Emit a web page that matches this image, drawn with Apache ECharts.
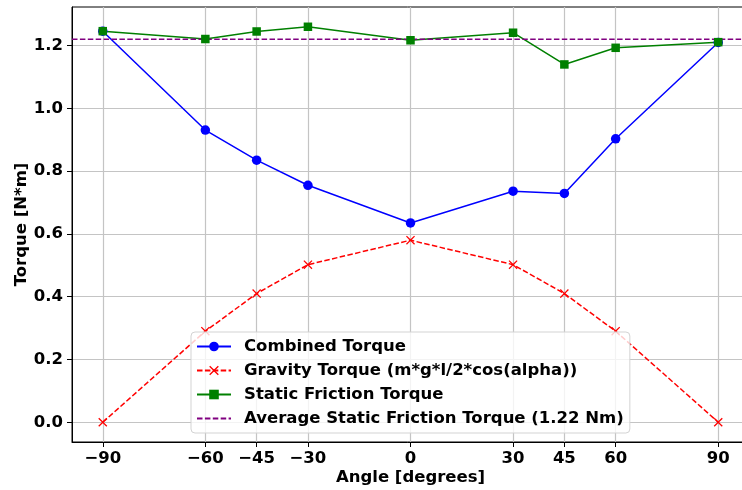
<!DOCTYPE html>
<html>
<head>
<meta charset="utf-8">
<script src="https://cdn.jsdelivr.net/npm/echarts@6/dist/echarts.min.js"></script>
<style>
  html, body { margin: 0; padding: 0; background: #fff; }
  #chart { width: 742px; height: 490px; }
</style>
</head>
<body>
<div id="chart"></div>
<script>
// Measurement angles (degrees) and the torques at each angle (N*m)
const angles = [-90, -60, -45, -30, 0, 30, 45, 60, 90];
const combinedTorque = [1.246, 0.931, 0.835, 0.755, 0.635, 0.736, 0.729, 0.903, 1.210];
const gravityTorque = [0.0, 0.29, 0.41, 0.502, 0.58, 0.502, 0.41, 0.29, 0.0];
const frictionTorque = [1.246, 1.221, 1.245, 1.260, 1.217, 1.241, 1.140, 1.193, 1.211];
const avgFriction = 1.22;

const xTicks = [-90, -60, -45, -30, 0, 30, 45, 60, 90];
const yTicks = [0, 0.2, 0.4, 0.6, 0.8, 1.0, 1.2];

const seriesNames = [
  'Combined Torque',
  'Gravity Torque (m*g*l/2*cos(alpha))',
  'Static Friction Torque',
  'Average Static Friction Torque (1.22 Nm)'
];

const xMin = -99, xMax = 99;
const pair = (vals) => angles.map((a, i) => [a, vals[i]]);

const font = 'DejaVu Sans';
const fs = 16.5;
const crossPath = 'path://M0,1L1,0L5,4L9,0L10,1L6,5L10,9L9,10L5,6L1,10L0,9L4,5Z';

const chart = echarts.init(document.getElementById('chart'), null, { renderer: 'canvas' });

chart.setOption({
  animation: false,
  backgroundColor: '#ffffff',
  textStyle: { fontFamily: font, fontWeight: 'bold', color: '#000' },
  grid: {
    left: 72, top: 7, width: 677, height: 435,
    containLabel: false, outerBoundsMode: 'none',
    show: true, borderColor: '#000', borderWidth: 1, backgroundColor: 'transparent'
  },
  legend: {
    orient: 'vertical',
    left: 191, top: 332,
    padding: [6, 6, 6, 5],
    itemWidth: 34, itemHeight: 12, itemGap: 7,
    backgroundColor: 'rgba(255,255,255,0.8)',
    borderColor: '#d3d3d3', borderWidth: 1, borderRadius: 4,
    textStyle: { fontFamily: font, fontWeight: 'bold', fontSize: fs, color: '#000', padding: [0, 0, 0, 8] },
    data: [
      seriesNames[0],
      seriesNames[1],
      seriesNames[2],
      { name: seriesNames[3], itemStyle: { opacity: 0 } }
    ]
  },
  xAxis: {
    type: 'value', min: xMin, max: xMax,
    name: 'Angle [degrees]', nameLocation: 'middle', nameGap: 27, nameMoveOverlap: false,
    nameTextStyle: { fontFamily: font, fontWeight: 'bold', fontSize: fs, color: '#000' },
    axisLine: { show: true, onZero: false, lineStyle: { color: '#000', width: 1 } },
    axisTick: { show: true, length: 5, customValues: xTicks, lineStyle: { color: '#000', width: 1 } },
    axisLabel: {
      customValues: xTicks, margin: 8,
      fontFamily: font, fontWeight: 'bold', fontSize: fs, color: '#000',
      formatter: (v) => String(v).replace('-', '\u2212')
    },
    splitLine: { show: true, lineStyle: { color: '#c4c4c4', width: 1.2 } }
  },
  yAxis: {
    type: 'value', min: -0.063, max: 1.323,
    name: 'Torque [N*m]', nameLocation: 'middle', nameGap: 42, nameRotate: 90, nameMoveOverlap: false,
    nameTextStyle: { fontFamily: font, fontWeight: 'bold', fontSize: fs, color: '#000' },
    axisLine: { show: true, onZero: false, lineStyle: { color: '#000', width: 1 } },
    axisTick: { show: true, length: 5, customValues: yTicks, lineStyle: { color: '#000', width: 1 } },
    axisLabel: {
      customValues: yTicks, margin: 9,
      fontFamily: font, fontWeight: 'bold', fontSize: fs, color: '#000',
      formatter: (v) => v.toFixed(1)
    },
    splitLine: { show: true, lineStyle: { color: '#c4c4c4', width: 1.2 } }
  },
  series: [
    {
      name: seriesNames[0], type: 'line', data: pair(combinedTorque),
      symbol: 'circle', symbolSize: 9.5,
      lineStyle: { color: '#0000ff', width: 1.5 },
      itemStyle: { color: '#0000ff' }, z: 3
    },
    {
      name: seriesNames[1], type: 'line', data: pair(gravityTorque),
      symbol: crossPath, symbolSize: 9,
      lineStyle: { color: '#ff0000', width: 1.5, type: [5.5, 2.4] },
      itemStyle: { color: '#ff0000' }, z: 3
    },
    {
      name: seriesNames[2], type: 'line', data: pair(frictionTorque),
      symbol: 'rect', symbolSize: 8.5,
      lineStyle: { color: '#008000', width: 1.5 },
      itemStyle: { color: '#008000' }, z: 3
    },
    {
      name: seriesNames[3], type: 'line',
      data: [[xMin, avgFriction], [xMax, avgFriction]],
      symbol: 'none',
      lineStyle: { color: '#800080', width: 1.5, type: [5.5, 2.4] },
      itemStyle: { color: '#800080' }, z: 3
    }
  ]
});
</script>
</body>
</html>
